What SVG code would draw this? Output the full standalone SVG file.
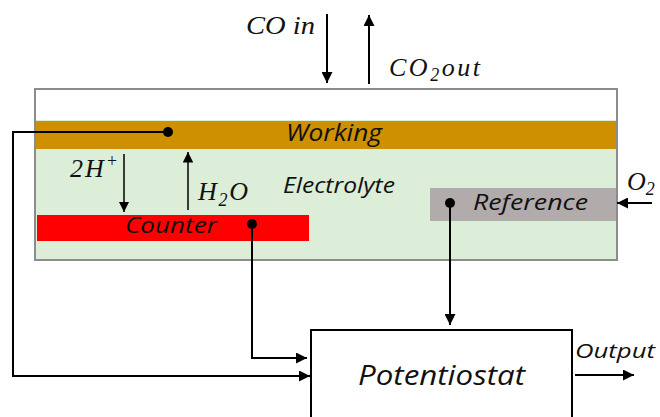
<svg xmlns="http://www.w3.org/2000/svg" width="660" height="417" viewBox="0 0 660 417">
<style>
.lab{font-family:"Open Sans","Noto Sans","Liberation Sans",sans-serif;font-style:italic;fill:#111}
.math{font-family:"Liberation Serif","DejaVu Serif",serif;font-style:italic;fill:#111}
.wire{fill:none;stroke:#000;stroke-width:2}
.thin{fill:none;stroke:#000;stroke-width:1.5}
</style>
<defs>
<marker id="ah" viewBox="0 0 10 10" refX="10" refY="5" markerWidth="5.5" markerHeight="5.5" orient="auto" markerUnits="strokeWidth">
<path d="M0,0 L10,5 L0,10 z" fill="#000"/>
</marker>
<marker id="ah2" viewBox="0 0 10 10" refX="10" refY="5" markerWidth="7" markerHeight="7" orient="auto" markerUnits="strokeWidth">
<path d="M0,0 L10,5 L0,10 z" fill="#000"/>
</marker>
</defs>
<rect width="660" height="417" fill="#fff"/>
<g id="cell">
<rect x="35" y="89" width="582" height="171" fill="#fff" stroke="#8c8c8c" stroke-width="2"/>
<rect x="36" y="120" width="580" height="139" fill="#dcedd8"/>
<text class="lab" x="283" y="193" font-size="21" textLength="112" lengthAdjust="spacingAndGlyphs">Electrolyte</text>
</g>
<g id="working">
<rect x="36" y="121" width="580" height="28" fill="#cf9000"/>
<text class="lab" x="286" y="141" font-size="23" textLength="96" lengthAdjust="spacingAndGlyphs">Working</text>
</g>
<g id="counter">
<rect x="37" y="215" width="272" height="26" fill="#ff0000"/>
<text class="lab" x="125" y="233" font-size="22" textLength="92" lengthAdjust="spacingAndGlyphs">Counter</text>
</g>
<g id="reference">
<rect x="430" y="188" width="186" height="33" fill="#b1abab"/>
<text class="lab" x="473" y="210" font-size="22" textLength="115" lengthAdjust="spacingAndGlyphs">Reference</text>
</g>
<g id="potentiostat">
<rect x="311" y="330" width="261" height="100" fill="#fff" stroke="#000" stroke-width="2"/>
<text class="lab" x="358" y="385" font-size="27" textLength="167" lengthAdjust="spacingAndGlyphs">Potentiostat</text>
</g>
<g id="labels">
<text class="math" x="246" y="34" font-size="26" textLength="69" lengthAdjust="spacingAndGlyphs">CO in</text>
<text class="math" x="389" y="76" font-size="26" textLength="91" lengthAdjust="spacing">CO<tspan font-size="18" dy="5">2</tspan><tspan dy="-5">out</tspan></text>
<text class="math" x="70" y="177" font-size="26" textLength="48" lengthAdjust="spacing">2H<tspan font-size="18" dy="-10">+</tspan></text>
<text class="math" x="198" y="200" font-size="26" textLength="50" lengthAdjust="spacing">H<tspan font-size="18" dy="6">2</tspan><tspan dy="-6">O</tspan></text>
<text class="math" x="627" y="190" font-size="26">O<tspan font-size="18" dy="5">2</tspan></text>
<text class="lab" x="575" y="358" font-size="20" textLength="80" lengthAdjust="spacingAndGlyphs">Output</text>
</g>
<g id="connectors">
<line class="wire" x1="327" y1="14" x2="327" y2="83" marker-end="url(#ah)"/>
<line class="wire" x1="369" y1="84" x2="369" y2="15" marker-end="url(#ah)"/>
<line class="thin" x1="124" y1="154" x2="124" y2="212" marker-end="url(#ah2)"/>
<line class="thin" x1="188" y1="210" x2="188" y2="152" marker-end="url(#ah2)"/>
<line class="wire" x1="652" y1="203" x2="617" y2="203" marker-end="url(#ah)"/>
<polyline class="wire" points="168,132 13,132 13,376 310,376" marker-end="url(#ah)"/>
<polyline class="wire" points="252,224 252,358 307,358" marker-end="url(#ah)"/>
<line class="wire" x1="450" y1="203" x2="450" y2="325" marker-end="url(#ah)"/>
<line class="wire" x1="575" y1="375" x2="634" y2="375" marker-end="url(#ah)"/>
<circle cx="168" cy="132" r="5" fill="#000"/>
<circle cx="252" cy="224" r="5" fill="#000"/>
<circle cx="450" cy="203" r="5" fill="#000"/>
</g>
</svg>
